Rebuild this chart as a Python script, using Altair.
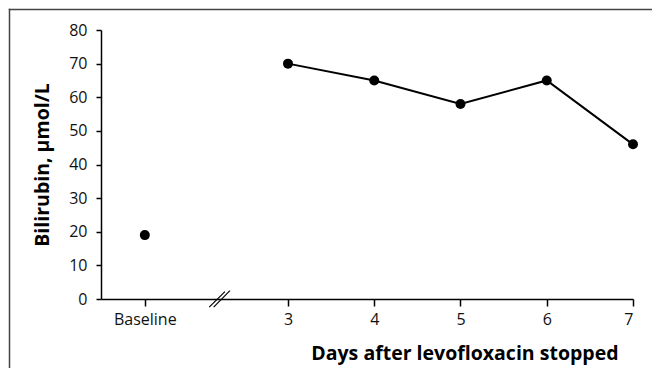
import altair as alt
import pandas as pd

# Data
days = ["Baseline", "3", "4", "5", "6", "7"]
bilirubin = [19, 70, 65, 58, 65, 46]

df = pd.DataFrame({"day": days, "bilirubin": bilirubin})

# axis layout (in "day" units): where Baseline sits and where the break marks go
BASE_POS = 1.34
X_MIN, X_MAX = 0.832, 7
break_df = pd.DataFrame({
    "x1": [2.087, 2.138], "x2": [2.269, 2.327],
    "y1": [-2.4, -2.4], "y2": [2.2, 2.5],
})

FONT = "Open Sans"
W, H = 532, 269
PAD = {"left": 93, "top": 22, "right": 20, "bottom": 70}

xscale = alt.Scale(domain=[X_MIN, X_MAX], nice=False, zero=False)
yscale = alt.Scale(domain=[0, 80], nice=False)

base = alt.Chart(df).transform_calculate(
    pos=f"datum.day == 'Baseline' ? {BASE_POS} : toNumber(datum.day)"
)

xaxis = alt.Axis(
    values=[BASE_POS, 3, 4, 5, 6, 7],
    labelExpr="datum.value < 2 ? 'Baseline' : format(datum.value, 'd')",
    title="Days after levofloxacin stopped",
    grid=False, tickSize=7, domainColor="black", tickColor="black",
    domainWidth=1.5, tickWidth=1.5, labelOverlap=False,
    labelFont=FONT, labelFontSize=16, labelColor="#111", labelPadding=5,
    titleFont=FONT, titleFontSize=19.5, titleFontWeight="bold", titleColor="black",
    titleX=517, titleY=54, titleAlign="right", titleBaseline="middle",
)
yaxis = alt.Axis(
    values=list(range(0, 81, 10)),
    title="Bilirubin, μmol/L",
    grid=False, tickSize=5, domainColor="black", tickColor="black",
    domainWidth=1.5, tickWidth=1.5, labelOverlap=False,
    labelFont=FONT, labelFontSize=16, labelColor="#111", labelPadding=9,
    titleFont=FONT, titleFontSize=19.5, titleFontWeight="bold", titleColor="black",
    titleX=-59, titleY=134.5, titleAngle=-90, titleAlign="center", titleBaseline="middle",
)

line = base.transform_filter("datum.day != 'Baseline'").mark_line(
    color="black", strokeWidth=2
).encode(
    x=alt.X("pos:Q", scale=xscale, axis=xaxis),
    y=alt.Y("bilirubin:Q", scale=yscale, axis=yaxis),
)

points = base.mark_point(filled=True, size=100, color="black", opacity=1).encode(
    x=alt.X("pos:Q", scale=xscale, axis=xaxis),
    y=alt.Y("bilirubin:Q", scale=yscale, axis=yaxis),
)

breaks = alt.Chart(break_df).mark_rule(color="black", strokeWidth=1.2, clip=False).encode(
    x=alt.X("x1:Q", scale=xscale, axis=xaxis), x2="x2:Q",
    y=alt.Y("y1:Q", scale=yscale, axis=yaxis), y2="y2:Q",
)

# outer frame (left and top edges only, as in the reference), drawn as thin filled bars
right_edge = W + PAD["right"] - 1
bottom_edge = H + PAD["bottom"] - 1
one = alt.Chart(df).transform_filter("datum.day == 'Baseline'")
frame_left = one.mark_rect(color="#444", strokeWidth=0, clip=False).encode(
    x=alt.value(-92.25), x2=alt.value(-90.75), y=alt.value(-21.25), y2=alt.value(bottom_edge)
)
frame_top = one.mark_rect(color="#444", strokeWidth=0, clip=False).encode(
    x=alt.value(-92.25), x2=alt.value(right_edge), y=alt.value(-21.25), y2=alt.value(-19.75)
)

chart = alt.layer(line, points, breaks, frame_left, frame_top).properties(
    width=W, height=H,
    autosize=alt.AutoSizeParams(type="none"),
    padding=PAD,
    background="white",
).configure_view(stroke=None)

chart.save("out.html", embed_options={"renderer": "svg", "actions": False})
